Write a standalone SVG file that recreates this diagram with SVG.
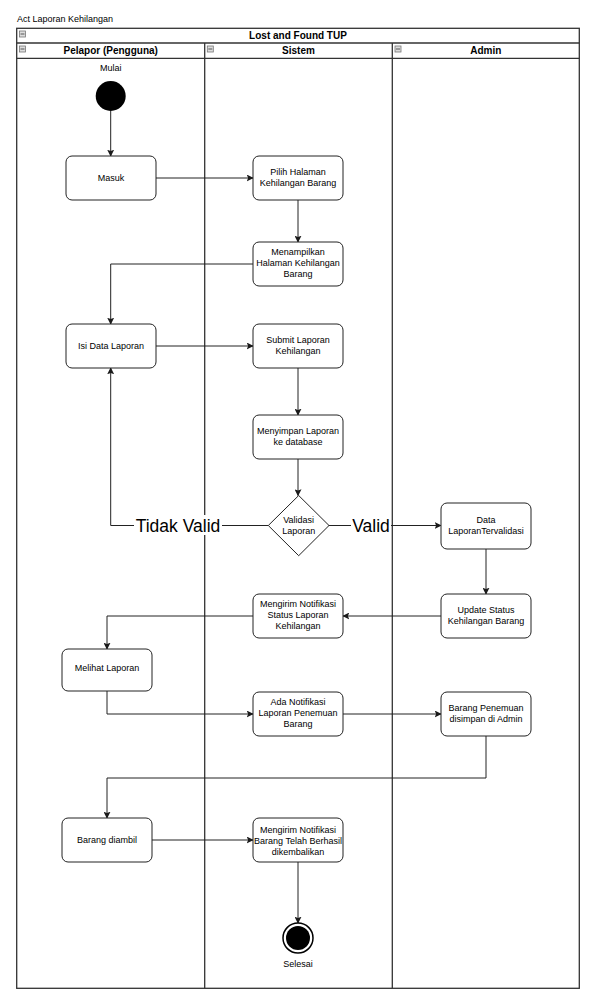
<svg xmlns="http://www.w3.org/2000/svg" width="593" height="1001" viewBox="0 0 593 1001">
<defs>
<marker id="arr" viewBox="0 0 10 10" refX="9" refY="5" markerWidth="7" markerHeight="7" markerUnits="userSpaceOnUse" orient="auto">
<path d="M0,0 L10,5 L0,10 L2,5 Z" fill="#1a1a1a"/>
</marker>
<style>
.frame{fill:none;stroke:#333;stroke-width:1.3}
.hdr{font-family:"Liberation Sans",Arial,sans-serif;font-size:10px;font-weight:bold;fill:#000;text-anchor:middle}
.node rect{fill:#fff;stroke:#222;stroke-width:1}
.t{font-family:"Liberation Sans",Arial,sans-serif;font-size:9px;fill:#000;text-anchor:middle}
.conn path{fill:none;stroke:#222;stroke-width:1;marker-end:url(#arr)}
.lbl{font-family:"Liberation Sans",Arial,sans-serif;font-size:17.5px;fill:#000;text-anchor:middle}
.ico rect{fill:#ddd;stroke:#777;stroke-width:0.8}
.ico line{stroke:#555;stroke-width:1}
</style>
</defs>
<rect width="593" height="1001" fill="#fff"/>
<text x="17" y="22" font-family="Liberation Sans,Arial,sans-serif" font-size="9px" fill="#000">Act Laporan Kehilangan</text>
<g id="pool">
<rect class="frame" x="16.7" y="28.3" width="562.6" height="960"/>
<line class="frame" x1="16.7" y1="43" x2="579.3" y2="43"/>
<line class="frame" x1="16.7" y1="58.3" x2="579.3" y2="58.3"/>
<line class="frame" x1="204.7" y1="43" x2="204.7" y2="988.3"/>
<line class="frame" x1="392.3" y1="43" x2="392.3" y2="988.3"/>
<text class="hdr" x="298" y="39">Lost and Found TUP</text>
<text class="hdr" x="110.7" y="54">Pelapor (Pengguna)</text>
<text class="hdr" x="298.5" y="54">Sistem</text>
<text class="hdr" x="485.8" y="54">Admin</text>
<g class="ico">
<rect x="19.5" y="31" width="6" height="6"/><line x1="20.5" y1="34" x2="24.5" y2="34"/>
<rect x="19.5" y="46" width="6" height="6"/><line x1="20.5" y1="49" x2="24.5" y2="49"/>
<rect x="207.3" y="46" width="6" height="6"/><line x1="208.3" y1="49" x2="212.3" y2="49"/>
<rect x="395" y="46" width="6" height="6"/><line x1="396" y1="49" x2="400" y2="49"/>
</g>
</g>
<g id="connectors" class="conn">
<path d="M110.7,111 L110.7,156"/>
<path d="M156,178 L253,178"/>
<path d="M298,200 L298,242"/>
<path d="M253,264 L110.7,264 L110.7,324"/>
<path d="M156,346 L253,346"/>
<path d="M298,368 L298,415"/>
<path d="M298,459 L298,495.5"/>
<path d="M268.3,525.5 L110.7,525.5 L110.7,368"/>
<path d="M329,525.5 L441,525.5"/>
<path d="M486,549 L486,594"/>
<path d="M441,616 L343,616"/>
<path d="M253,616 L107,616 L107,649"/>
<path d="M107,691 L107,714 L253,714"/>
<path d="M343,714 L441,714"/>
<path d="M486,736 L486,778 L107,778 L107,818"/>
<path d="M152,840 L253,840"/>
<path d="M298,862 L298,923"/>
</g>
<g id="labels">
<rect x="134" y="515" width="88" height="20" fill="#fff"/>
<text class="lbl" x="178" y="532">Tidak Valid</text>
<rect x="351" y="515" width="40" height="20" fill="#fff"/>
<text class="lbl" x="371" y="532">Valid</text>
</g>
<g id="start">
<text class="t" x="110.7" y="71">Mulai</text>
<circle cx="110.7" cy="96" r="15" fill="#000"/>
</g>
<g id="masuk" class="node"><rect x="66" y="156" width="90" height="44" rx="6"/><text class="t" x="111" y="181">Masuk</text></g>
<g id="pilih" class="node"><rect x="253" y="156" width="90" height="44" rx="6"/><text class="t" x="298" y="175">Pilih Halaman</text><text class="t" x="298" y="186">Kehilangan Barang</text></g>
<g id="menampilkan" class="node"><rect x="253" y="242" width="90" height="44" rx="6"/><text class="t" x="298" y="255">Menampilkan</text><text class="t" x="298" y="266">Halaman Kehilangan</text><text class="t" x="298" y="277">Barang</text></g>
<g id="isidata" class="node"><rect x="66" y="324" width="90" height="44" rx="6"/><text class="t" x="111" y="349">Isi Data Laporan</text></g>
<g id="submit" class="node"><rect x="253" y="324" width="90" height="44" rx="6"/><text class="t" x="298" y="343">Submit Laporan</text><text class="t" x="298" y="354">Kehilangan</text></g>
<g id="menyimpan" class="node"><rect x="253" y="415" width="90" height="44" rx="6"/><text class="t" x="298" y="434">Menyimpan Laporan</text><text class="t" x="298" y="445">ke database</text></g>
<g id="validasi" class="node"><path d="M298.7,495.5 L329,525.5 L298.7,555.7 L268.3,525.5 Z" fill="#fff" stroke="#222" stroke-width="1"/><text class="t" x="298.7" y="523">Validasi</text><text class="t" x="298.7" y="534">Laporan</text></g>
<g id="tervalidasi" class="node"><rect x="441" y="503" width="90" height="46" rx="6"/><text class="t" x="486" y="523">Data</text><text class="t" x="486" y="534">LaporanTervalidasi</text></g>
<g id="update" class="node"><rect x="441" y="594" width="90" height="44" rx="6"/><text class="t" x="486" y="613">Update Status</text><text class="t" x="486" y="624">Kehilangan Barang</text></g>
<g id="notifstatus" class="node"><rect x="253" y="594" width="90" height="44" rx="6"/><text class="t" x="298" y="607">Mengirim Notifikasi</text><text class="t" x="298" y="618">Status Laporan</text><text class="t" x="298" y="629">Kehilangan</text></g>
<g id="melihat" class="node"><rect x="62" y="649" width="90" height="42" rx="6"/><text class="t" x="107" y="671">Melihat Laporan</text></g>
<g id="adanotif" class="node"><rect x="253" y="692" width="90" height="44" rx="6"/><text class="t" x="298" y="705">Ada Notifikasi</text><text class="t" x="298" y="716">Laporan Penemuan</text><text class="t" x="298" y="727">Barang</text></g>
<g id="disimpan" class="node"><rect x="441" y="692" width="90" height="44" rx="6"/><text class="t" x="486" y="711">Barang Penemuan</text><text class="t" x="486" y="722">disimpan di Admin</text></g>
<g id="diambil" class="node"><rect x="62" y="818" width="90" height="44" rx="6"/><text class="t" x="107" y="843">Barang diambil</text></g>
<g id="notifkembali" class="node"><rect x="253" y="818" width="90" height="44" rx="6"/><text class="t" x="298" y="833">Mengirim Notifikasi</text><text class="t" x="298" y="844">Barang Telah Berhasil</text><text class="t" x="298" y="855">dikembalikan</text></g>
<g id="end">
<circle cx="298" cy="938" r="15" fill="#fff" stroke="#000" stroke-width="1.5"/>
<circle cx="298" cy="938" r="12" fill="#000"/>
<text class="t" x="298" y="967">Selesai</text>
</g>
</svg>
